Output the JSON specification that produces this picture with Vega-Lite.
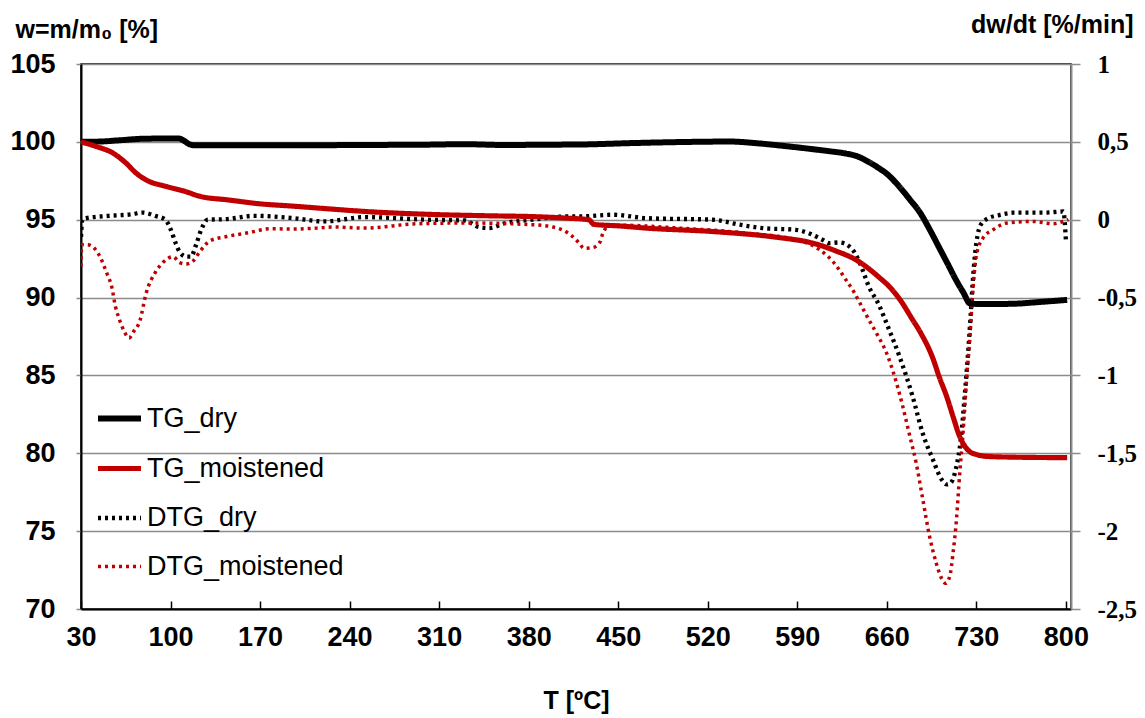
{
  "$schema": "https://vega.github.io/schema/vega-lite/v6.json",
  "width": 990,
  "height": 545,
  "autosize": {"type": "none"},
  "padding": {"left": 81, "top": 64, "right": 74, "bottom": 109},
  "background": "#ffffff",
  "config": {
    "view": {"stroke": "#000000", "strokeWidth": 1.5},
    "font": "Liberation Sans"
  },
  "datasets": {
    "curves": [
      {"series": "TG_dry", "T": 30, "value": 100.0},
      {"series": "TG_dry", "T": 45, "value": 100.02},
      {"series": "TG_dry", "T": 60, "value": 100.1},
      {"series": "TG_dry", "T": 79, "value": 100.2},
      {"series": "TG_dry", "T": 106, "value": 100.22},
      {"series": "TG_dry", "T": 110, "value": 100.1},
      {"series": "TG_dry", "T": 114, "value": 99.88},
      {"series": "TG_dry", "T": 119, "value": 99.78},
      {"series": "TG_dry", "T": 150, "value": 99.79},
      {"series": "TG_dry", "T": 200, "value": 99.78},
      {"series": "TG_dry", "T": 250, "value": 99.8},
      {"series": "TG_dry", "T": 300, "value": 99.82},
      {"series": "TG_dry", "T": 330, "value": 99.85},
      {"series": "TG_dry", "T": 360, "value": 99.8},
      {"series": "TG_dry", "T": 400, "value": 99.82},
      {"series": "TG_dry", "T": 420, "value": 99.83},
      {"series": "TG_dry", "T": 460, "value": 99.92},
      {"series": "TG_dry", "T": 500, "value": 99.99},
      {"series": "TG_dry", "T": 537, "value": 100.02},
      {"series": "TG_dry", "T": 560, "value": 99.9},
      {"series": "TG_dry", "T": 576, "value": 99.77},
      {"series": "TG_dry", "T": 600, "value": 99.55},
      {"series": "TG_dry", "T": 615, "value": 99.4},
      {"series": "TG_dry", "T": 628, "value": 99.25},
      {"series": "TG_dry", "T": 636, "value": 99.1},
      {"series": "TG_dry", "T": 645, "value": 98.75},
      {"series": "TG_dry", "T": 654, "value": 98.3},
      {"series": "TG_dry", "T": 660, "value": 97.95},
      {"series": "TG_dry", "T": 670, "value": 97.1},
      {"series": "TG_dry", "T": 678, "value": 96.3},
      {"series": "TG_dry", "T": 686, "value": 95.45},
      {"series": "TG_dry", "T": 694, "value": 94.3},
      {"series": "TG_dry", "T": 701, "value": 93.2},
      {"series": "TG_dry", "T": 708, "value": 92.1},
      {"series": "TG_dry", "T": 714, "value": 91.15},
      {"series": "TG_dry", "T": 720, "value": 90.3},
      {"series": "TG_dry", "T": 725, "value": 89.62},
      {"series": "TG_dry", "T": 735, "value": 89.58},
      {"series": "TG_dry", "T": 758, "value": 89.6},
      {"series": "TG_dry", "T": 780, "value": 89.72},
      {"series": "TG_dry", "T": 801, "value": 89.85},

      {"series": "TG_moistened", "T": 30, "value": 100.0},
      {"series": "TG_moistened", "T": 42, "value": 99.7},
      {"series": "TG_moistened", "T": 55, "value": 99.28},
      {"series": "TG_moistened", "T": 65, "value": 98.65},
      {"series": "TG_moistened", "T": 73, "value": 98.0},
      {"series": "TG_moistened", "T": 81, "value": 97.55},
      {"series": "TG_moistened", "T": 97, "value": 97.13},
      {"series": "TG_moistened", "T": 112, "value": 96.8},
      {"series": "TG_moistened", "T": 123, "value": 96.5},
      {"series": "TG_moistened", "T": 144, "value": 96.28},
      {"series": "TG_moistened", "T": 170, "value": 96.02},
      {"series": "TG_moistened", "T": 196, "value": 95.87},
      {"series": "TG_moistened", "T": 220, "value": 95.72},
      {"series": "TG_moistened", "T": 252, "value": 95.53},
      {"series": "TG_moistened", "T": 300, "value": 95.35},
      {"series": "TG_moistened", "T": 350, "value": 95.25},
      {"series": "TG_moistened", "T": 383, "value": 95.2},
      {"series": "TG_moistened", "T": 410, "value": 95.1},
      {"series": "TG_moistened", "T": 427, "value": 95.0},
      {"series": "TG_moistened", "T": 431, "value": 94.7},
      {"series": "TG_moistened", "T": 451, "value": 94.6},
      {"series": "TG_moistened", "T": 472, "value": 94.46},
      {"series": "TG_moistened", "T": 524, "value": 94.24},
      {"series": "TG_moistened", "T": 576, "value": 93.85},
      {"series": "TG_moistened", "T": 602, "value": 93.5},
      {"series": "TG_moistened", "T": 620, "value": 93.0},
      {"series": "TG_moistened", "T": 636, "value": 92.42},
      {"series": "TG_moistened", "T": 654, "value": 91.3},
      {"series": "TG_moistened", "T": 662, "value": 90.7},
      {"series": "TG_moistened", "T": 670, "value": 89.9},
      {"series": "TG_moistened", "T": 680, "value": 88.6},
      {"series": "TG_moistened", "T": 686, "value": 87.8},
      {"series": "TG_moistened", "T": 696, "value": 86.1},
      {"series": "TG_moistened", "T": 701, "value": 84.9},
      {"series": "TG_moistened", "T": 707, "value": 83.6},
      {"series": "TG_moistened", "T": 712, "value": 82.3},
      {"series": "TG_moistened", "T": 717, "value": 81.07},
      {"series": "TG_moistened", "T": 721, "value": 80.45},
      {"series": "TG_moistened", "T": 725, "value": 80.1},
      {"series": "TG_moistened", "T": 731, "value": 79.9},
      {"series": "TG_moistened", "T": 738, "value": 79.8},
      {"series": "TG_moistened", "T": 760, "value": 79.75},
      {"series": "TG_moistened", "T": 801, "value": 79.72},

      {"series": "DTG_dry", "T": 30, "value": -0.11},
      {"series": "DTG_dry", "T": 31, "value": 0.0},
      {"series": "DTG_dry", "T": 34, "value": 0.01},
      {"series": "DTG_dry", "T": 52, "value": 0.025},
      {"series": "DTG_dry", "T": 70, "value": 0.035},
      {"series": "DTG_dry", "T": 78, "value": 0.046},
      {"series": "DTG_dry", "T": 88, "value": 0.025},
      {"series": "DTG_dry", "T": 96, "value": 0.0},
      {"series": "DTG_dry", "T": 100, "value": -0.06},
      {"series": "DTG_dry", "T": 104, "value": -0.15},
      {"series": "DTG_dry", "T": 107, "value": -0.205},
      {"series": "DTG_dry", "T": 112, "value": -0.237},
      {"series": "DTG_dry", "T": 116, "value": -0.237},
      {"series": "DTG_dry", "T": 120, "value": -0.16},
      {"series": "DTG_dry", "T": 124, "value": -0.064},
      {"series": "DTG_dry", "T": 129, "value": 0.0},
      {"series": "DTG_dry", "T": 144, "value": 0.004},
      {"series": "DTG_dry", "T": 165, "value": 0.025},
      {"series": "DTG_dry", "T": 196, "value": 0.01},
      {"series": "DTG_dry", "T": 220, "value": -0.011},
      {"series": "DTG_dry", "T": 252, "value": 0.017},
      {"series": "DTG_dry", "T": 300, "value": 0.0},
      {"series": "DTG_dry", "T": 330, "value": -0.005},
      {"series": "DTG_dry", "T": 341, "value": -0.047},
      {"series": "DTG_dry", "T": 349, "value": -0.053},
      {"series": "DTG_dry", "T": 362, "value": -0.021},
      {"series": "DTG_dry", "T": 383, "value": 0.0},
      {"series": "DTG_dry", "T": 409, "value": 0.021},
      {"series": "DTG_dry", "T": 420, "value": 0.021},
      {"series": "DTG_dry", "T": 446, "value": 0.032},
      {"series": "DTG_dry", "T": 472, "value": 0.01},
      {"series": "DTG_dry", "T": 524, "value": 0.0},
      {"series": "DTG_dry", "T": 545, "value": -0.032},
      {"series": "DTG_dry", "T": 563, "value": -0.054},
      {"series": "DTG_dry", "T": 589, "value": -0.065},
      {"series": "DTG_dry", "T": 600, "value": -0.09},
      {"series": "DTG_dry", "T": 610, "value": -0.13},
      {"series": "DTG_dry", "T": 615, "value": -0.15},
      {"series": "DTG_dry", "T": 623, "value": -0.146},
      {"series": "DTG_dry", "T": 633, "value": -0.19},
      {"series": "DTG_dry", "T": 639, "value": -0.28},
      {"series": "DTG_dry", "T": 646, "value": -0.43},
      {"series": "DTG_dry", "T": 654, "value": -0.55},
      {"series": "DTG_dry", "T": 661, "value": -0.69},
      {"series": "DTG_dry", "T": 670, "value": -0.88},
      {"series": "DTG_dry", "T": 680, "value": -1.13},
      {"series": "DTG_dry", "T": 688, "value": -1.37},
      {"series": "DTG_dry", "T": 696, "value": -1.54},
      {"series": "DTG_dry", "T": 703, "value": -1.67},
      {"series": "DTG_dry", "T": 707, "value": -1.7},
      {"series": "DTG_dry", "T": 710, "value": -1.69},
      {"series": "DTG_dry", "T": 714, "value": -1.6},
      {"series": "DTG_dry", "T": 718, "value": -1.4},
      {"series": "DTG_dry", "T": 721, "value": -1.12},
      {"series": "DTG_dry", "T": 723.5, "value": -0.86},
      {"series": "DTG_dry", "T": 725.5, "value": -0.62},
      {"series": "DTG_dry", "T": 727, "value": -0.42},
      {"series": "DTG_dry", "T": 729, "value": -0.22},
      {"series": "DTG_dry", "T": 733, "value": -0.04},
      {"series": "DTG_dry", "T": 738, "value": 0.004},
      {"series": "DTG_dry", "T": 748, "value": 0.03},
      {"series": "DTG_dry", "T": 759, "value": 0.045},
      {"series": "DTG_dry", "T": 785, "value": 0.046},
      {"series": "DTG_dry", "T": 798, "value": 0.053},
      {"series": "DTG_dry", "T": 800, "value": -0.13},

      {"series": "DTG_moistened", "T": 30, "value": -0.3},
      {"series": "DTG_moistened", "T": 30.5, "value": -0.16},
      {"series": "DTG_moistened", "T": 35, "value": -0.16},
      {"series": "DTG_moistened", "T": 40, "value": -0.18},
      {"series": "DTG_moistened", "T": 45, "value": -0.24},
      {"series": "DTG_moistened", "T": 50, "value": -0.34},
      {"series": "DTG_moistened", "T": 54, "value": -0.43},
      {"series": "DTG_moistened", "T": 57, "value": -0.56},
      {"series": "DTG_moistened", "T": 60, "value": -0.64},
      {"series": "DTG_moistened", "T": 64, "value": -0.72},
      {"series": "DTG_moistened", "T": 67.6, "value": -0.76},
      {"series": "DTG_moistened", "T": 71, "value": -0.72},
      {"series": "DTG_moistened", "T": 76, "value": -0.65},
      {"series": "DTG_moistened", "T": 81, "value": -0.47},
      {"series": "DTG_moistened", "T": 88, "value": -0.34},
      {"series": "DTG_moistened", "T": 94, "value": -0.275},
      {"series": "DTG_moistened", "T": 102, "value": -0.237},
      {"series": "DTG_moistened", "T": 107, "value": -0.275},
      {"series": "DTG_moistened", "T": 112.5, "value": -0.284},
      {"series": "DTG_moistened", "T": 118, "value": -0.262},
      {"series": "DTG_moistened", "T": 123, "value": -0.204},
      {"series": "DTG_moistened", "T": 131, "value": -0.135},
      {"series": "DTG_moistened", "T": 144, "value": -0.108},
      {"series": "DTG_moistened", "T": 162, "value": -0.082},
      {"series": "DTG_moistened", "T": 178, "value": -0.058},
      {"series": "DTG_moistened", "T": 196, "value": -0.06},
      {"series": "DTG_moistened", "T": 214, "value": -0.054},
      {"series": "DTG_moistened", "T": 227, "value": -0.047},
      {"series": "DTG_moistened", "T": 252, "value": -0.054},
      {"series": "DTG_moistened", "T": 292, "value": -0.026},
      {"series": "DTG_moistened", "T": 331, "value": -0.021},
      {"series": "DTG_moistened", "T": 383, "value": -0.032},
      {"series": "DTG_moistened", "T": 399, "value": -0.047},
      {"series": "DTG_moistened", "T": 409, "value": -0.076},
      {"series": "DTG_moistened", "T": 416, "value": -0.12},
      {"series": "DTG_moistened", "T": 420, "value": -0.155},
      {"series": "DTG_moistened", "T": 423, "value": -0.183},
      {"series": "DTG_moistened", "T": 430, "value": -0.179},
      {"series": "DTG_moistened", "T": 436, "value": -0.14},
      {"series": "DTG_moistened", "T": 438, "value": -0.086},
      {"series": "DTG_moistened", "T": 443, "value": -0.04},
      {"series": "DTG_moistened", "T": 451, "value": -0.035},
      {"series": "DTG_moistened", "T": 498, "value": -0.054},
      {"series": "DTG_moistened", "T": 550, "value": -0.086},
      {"series": "DTG_moistened", "T": 589, "value": -0.129},
      {"series": "DTG_moistened", "T": 607, "value": -0.19},
      {"series": "DTG_moistened", "T": 620, "value": -0.29},
      {"series": "DTG_moistened", "T": 628, "value": -0.386},
      {"series": "DTG_moistened", "T": 634, "value": -0.46},
      {"series": "DTG_moistened", "T": 639, "value": -0.536},
      {"series": "DTG_moistened", "T": 646.5, "value": -0.65},
      {"series": "DTG_moistened", "T": 652, "value": -0.73},
      {"series": "DTG_moistened", "T": 660, "value": -0.86},
      {"series": "DTG_moistened", "T": 670, "value": -1.12},
      {"series": "DTG_moistened", "T": 678, "value": -1.39},
      {"series": "DTG_moistened", "T": 683, "value": -1.564},
      {"series": "DTG_moistened", "T": 688, "value": -1.79},
      {"series": "DTG_moistened", "T": 693.5, "value": -2.036},
      {"series": "DTG_moistened", "T": 698.7, "value": -2.207},
      {"series": "DTG_moistened", "T": 702.6, "value": -2.3},
      {"series": "DTG_moistened", "T": 706, "value": -2.335},
      {"series": "DTG_moistened", "T": 709.2, "value": -2.29},
      {"series": "DTG_moistened", "T": 711.8, "value": -2.14},
      {"series": "DTG_moistened", "T": 714.4, "value": -1.93},
      {"series": "DTG_moistened", "T": 717, "value": -1.63},
      {"series": "DTG_moistened", "T": 719.6, "value": -1.37},
      {"series": "DTG_moistened", "T": 722.3, "value": -1.03},
      {"series": "DTG_moistened", "T": 725, "value": -0.75},
      {"series": "DTG_moistened", "T": 727.5, "value": -0.43},
      {"series": "DTG_moistened", "T": 730, "value": -0.23},
      {"series": "DTG_moistened", "T": 735, "value": -0.12},
      {"series": "DTG_moistened", "T": 743, "value": -0.065},
      {"series": "DTG_moistened", "T": 754, "value": -0.021},
      {"series": "DTG_moistened", "T": 774, "value": -0.011},
      {"series": "DTG_moistened", "T": 790, "value": -0.026},
      {"series": "DTG_moistened", "T": 798, "value": -0.011},
      {"series": "DTG_moistened", "T": 802, "value": 0.0}
    ]
  },
  "data": {"name": "curves"},
  "encoding": {
    "x": {
      "field": "T",
      "type": "quantitative",
      "scale": {"domain": [30, 804], "nice": false, "zero": false},
      "axis": {
        "values": [30, 100, 170, 240, 310, 380, 450, 520, 590, 660, 730, 800],
        "grid": false,
        "domainColor": "#000000",
        "domainWidth": 2,
        "tickColor": "#000000",
        "tickWidth": 1.5,
        "tickSize": -8,
        "labelPadding": 23,
        "labelFont": "Liberation Sans",
        "labelFontWeight": "bold",
        "labelFontSize": 27,
        "labelColor": "#000000",
        "labelFlush": false,
        "labelOverlap": false,
        "title": "T [ºC]",
        "titleFont": "Liberation Sans",
        "titleFontWeight": "bold",
        "titleFontSize": 25,
        "titleColor": "#000000",
        "titleY": 91,
        "titleBaseline": "middle"
      }
    },
    "color": {
      "field": "series",
      "type": "nominal",
      "scale": {
        "domain": ["TG_dry", "TG_moistened", "DTG_dry", "DTG_moistened"],
        "range": ["#000000", "#C00000", "#000000", "#C00000"]
      },
      "legend": {
        "orient": "none",
        "legendX": 14,
        "legendY": 330,
        "title": null,
        "padding": 0,
        "labelFont": "Liberation Sans",
        "labelFontSize": 27,
        "labelColor": "#000000",
        "labelOffset": 3,
        "symbolType": "stroke",
        "symbolSize": 1849,
        "rowPadding": 12,
        "labelLimit": 400
      }
    },
    "strokeDash": {
      "field": "series",
      "type": "nominal",
      "scale": {
        "domain": ["TG_dry", "TG_moistened", "DTG_dry", "DTG_moistened"],
        "range": [[1, 0], [1, 0], [3, 4], [3, 4]]
      },
      "legend": {
        "orient": "none",
        "legendX": 14,
        "legendY": 330,
        "title": null,
        "padding": 0,
        "labelFont": "Liberation Sans",
        "labelFontSize": 27,
        "labelColor": "#000000",
        "labelOffset": 3,
        "symbolType": "stroke",
        "symbolSize": 1849,
        "rowPadding": 12,
        "labelLimit": 400
      }
    },
    "strokeWidth": {
      "field": "series",
      "type": "nominal",
      "scale": {
        "domain": ["TG_dry", "TG_moistened", "DTG_dry", "DTG_moistened"],
        "range": [6, 3.5, 3, 3]
      },
      "legend": {
        "orient": "none",
        "legendX": 14,
        "legendY": 330,
        "title": null,
        "padding": 0,
        "labelFont": "Liberation Sans",
        "labelFontSize": 27,
        "labelColor": "#000000",
        "labelOffset": 3,
        "symbolType": "stroke",
        "symbolSize": 1849,
        "rowPadding": 12,
        "labelLimit": 400
      }
    }
  },
  "layer": [
    {
      "transform": [{"filter": {"field": "series", "oneOf": ["DTG_dry", "DTG_moistened"]}}],
      "mark": {"type": "line", "interpolate": "monotone", "clip": true},
      "encoding": {
        "y": {
          "field": "value",
          "type": "quantitative",
          "scale": {"domain": [-2.5, 1], "nice": false, "zero": false},
          "axis": {
            "orient": "right",
            "values": [-2.5, -2, -1.5, -1, -0.5, 0, 0.5, 1],
            "grid": false,
            "domainColor": "#8c8c8c",
            "domainWidth": 2,
            "tickColor": "#8c8c8c",
            "tickWidth": 1.5,
            "tickSize": 9,
            "labelPadding": 17,
            "labelFont": "Liberation Serif",
            "labelFontWeight": "bold",
            "labelFontSize": 25,
            "labelColor": "#000000",
            "labelFlush": false,
            "labelOverlap": false,
            "labelExpr": "replace(toString(datum.value), '.', ',')",
            "title": "dw/dt [%/min]",
            "titleFont": "Liberation Sans",
            "titleFontWeight": "bold",
            "titleFontSize": 25,
            "titleColor": "#000000",
            "titleAngle": 0,
            "titleAlign": "right",
            "titleBaseline": "middle",
            "titleX": 62,
            "titleY": -40
          }
        }
      }
    },
    {
      "transform": [{"filter": {"field": "series", "oneOf": ["TG_dry", "TG_moistened"]}}],
      "mark": {"type": "line", "interpolate": "monotone", "clip": true},
      "encoding": {
        "y": {
          "field": "value",
          "type": "quantitative",
          "scale": {"domain": [70, 105], "nice": false, "zero": false},
          "axis": {
            "orient": "left",
            "values": [70, 75, 80, 85, 90, 95, 100, 105],
            "grid": true,
            "gridColor": "#8c8c8c",
            "gridWidth": 1.5,
            "domainColor": "#000000",
            "domainWidth": 2,
            "tickColor": "#8c8c8c",
            "tickWidth": 1.5,
            "tickSize": 5,
            "labelPadding": 21,
            "labelFont": "Liberation Sans",
            "labelFontWeight": "bold",
            "labelFontSize": 27,
            "labelColor": "#000000",
            "labelFlush": false,
            "labelOverlap": false,
            "title": "w=m/m₀ [%]",
            "titleFont": "Liberation Sans",
            "titleFontWeight": "bold",
            "titleFontSize": 25,
            "titleColor": "#000000",
            "titleAngle": 0,
            "titleAlign": "left",
            "titleBaseline": "middle",
            "titleX": -66,
            "titleY": -35
          }
        }
      }
    }
  ],
  "resolve": {"scale": {"y": "independent"}}
}
